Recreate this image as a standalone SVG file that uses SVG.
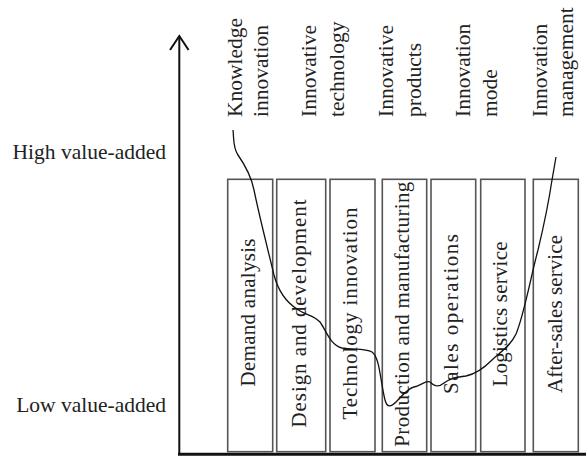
<svg xmlns="http://www.w3.org/2000/svg" width="586" height="464" viewBox="0 0 586 464">
<style>
text{font-family:"Liberation Serif","Times New Roman",serif;fill:#222;}
.lbl{font-size:21.5px;}
.box rect{fill:#fff;stroke:#555;stroke-width:1.6;}
.box text{font-size:21px;text-anchor:middle;}
.axis{stroke:#111;fill:none;}
</style>
<rect width="586" height="464" fill="#fff"/>
<g id="axes">
<line class="axis" x1="179.3" y1="36" x2="179.3" y2="455" stroke-width="2"/>
<polyline class="axis" points="170,50 179.3,36 188.6,50" stroke-width="2"/>
<line class="axis" x1="178" y1="454.3" x2="586" y2="454.3" stroke-width="3"/>
</g>
<g id="ylabels">
<text class="lbl" x="166" y="158.5" text-anchor="end">High value-added</text>
<text class="lbl" x="166" y="411.7" text-anchor="end">Low value-added</text>
</g>
<g id="toplabels">
<text class="lbl" transform="translate(241.7,117) rotate(-90)">Knowledge</text>
<text class="lbl" transform="translate(268.3,117) rotate(-90)">innovation</text>
<text class="lbl" transform="translate(316,117) rotate(-90)">Innovative</text>
<text class="lbl" transform="translate(344.3,117) rotate(-90)">technology</text>
<text class="lbl" transform="translate(393.3,117) rotate(-90)">Innovative</text>
<text class="lbl" transform="translate(420.7,117) rotate(-90)">products</text>
<text class="lbl" transform="translate(470,117) rotate(-90)">Innovation</text>
<text class="lbl" transform="translate(496.7,117) rotate(-90)">mode</text>
<text class="lbl" transform="translate(546.7,117) rotate(-90)">Innovation</text>
<text class="lbl" transform="translate(573.3,117) rotate(-90)">management</text>
</g>
<g id="box1" class="box"><rect x="227.7" y="179.3" width="45" height="272.4"/><text transform="translate(254.7,312.5) rotate(-90)" textLength="148">Demand analysis</text></g>
<g id="box2" class="box"><rect x="276.7" y="179.3" width="49" height="272.4"/><text transform="translate(305.7,313.5) rotate(-90)" textLength="228">Design and development</text></g>
<g id="box3" class="box"><rect x="330" y="179.3" width="45" height="272.4"/><text transform="translate(357,313.5) rotate(-90)" textLength="212">Technology innovation</text></g>
<g id="box4" class="box"><rect x="382.3" y="179.3" width="44.4" height="272.4"/><text transform="translate(408.5,314.2) rotate(-90)" textLength="265">Production and manufacturing</text></g>
<g id="box5" class="box"><rect x="431" y="179.3" width="44.7" height="272.4"/><text transform="translate(458,314) rotate(-90)" textLength="160">Sales operations</text></g>
<g id="box6" class="box"><rect x="480.7" y="179.3" width="44.3" height="272.4"/><text transform="translate(507.3,314) rotate(-90)" textLength="145">Logistics service</text></g>
<g id="box7" class="box"><rect x="533.3" y="179.3" width="45" height="272.4"/><text transform="translate(561.5,314) rotate(-90)" textLength="158">After-sales service</text></g>
<g id="connectors">
<path fill="none" stroke="#111" stroke-width="1.3" d="M233,130 C234,140 233,148 238,155 C245,165 251,175 254,190 C259,215 268,250 274,275 C278,290 286,302 297,309 C305,315 314,315 320,322 C326,330 330,345 342,348 C352,350 365,348 372,352 C380,358 380,380 385,400 C387,408 391,407 396,402 C402,396 408,388 414,387 C420,386 426,380 430,382 C434,386 438,388 444,383 C450,378 458,377 466,376 C476,374 484,368 492,360 C500,352 510,347 516,334 C524,315 530,280 538,250 C544,225 549,200 552,180 L556,157"/>
</g>
</svg>
